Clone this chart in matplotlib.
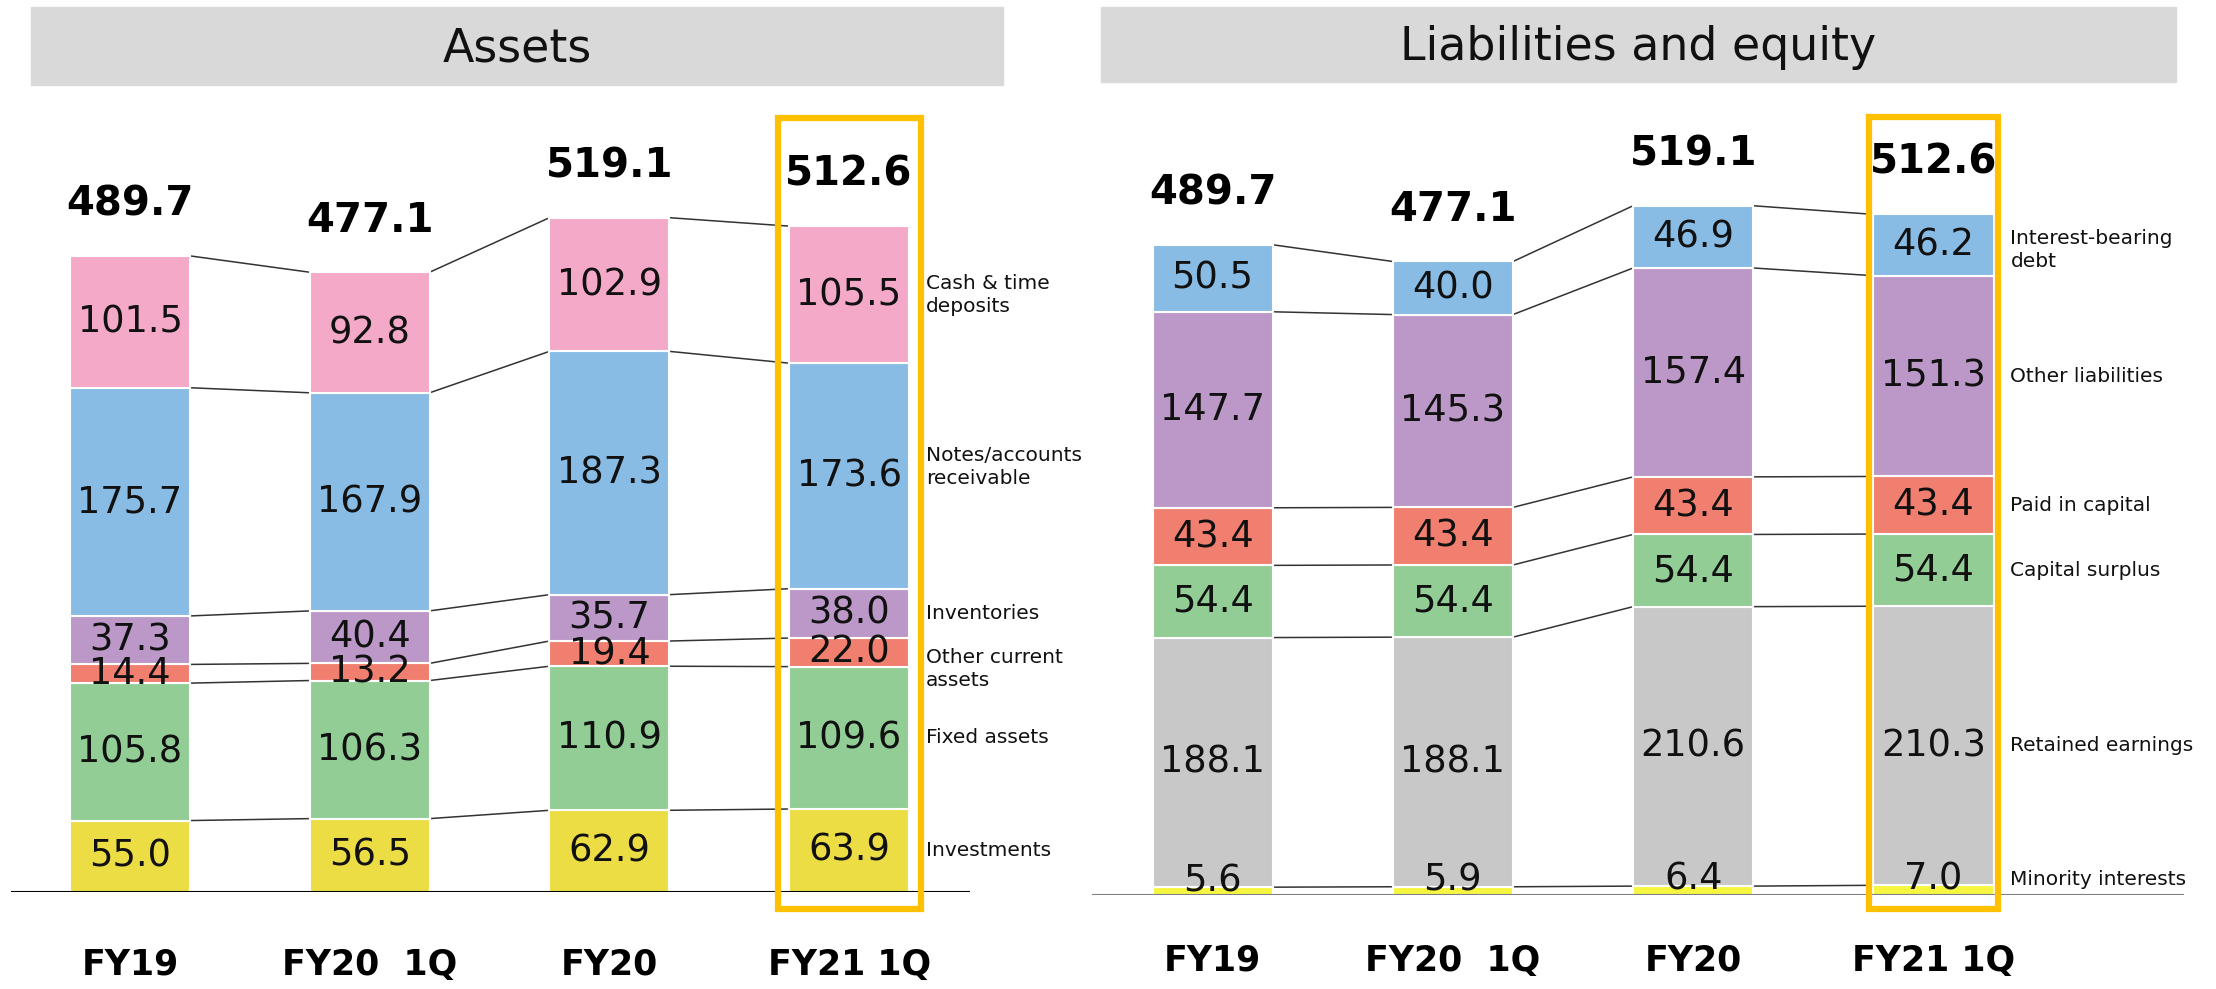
import matplotlib.pyplot as plt
from matplotlib.patches import Rectangle
import numpy as np

periods = ["FY19", "FY20  1Q", "FY20", "FY21 1Q"]

# assets, bottom to top
asset_names = ["Investments", "Fixed assets", "Other current\nassets", "Inventories",
               "Notes/accounts\nreceivable", "Cash & time\ndeposits"]
investments = [55.0, 56.5, 62.9, 63.9]
fixed_assets = [105.8, 106.3, 110.9, 109.6]
other_current = [14.4, 13.2, 19.4, 22.0]
inventories = [37.3, 40.4, 35.7, 38.0]
receivables = [175.7, 167.9, 187.3, 173.6]
cash = [101.5, 92.8, 102.9, 105.5]
asset_totals = [489.7, 477.1, 519.1, 512.6]

# liabilities and equity, bottom to top
liab_names = ["Minority interests", "Retained earnings", "Capital surplus", "Paid in capital",
              "Other liabilities", "Interest-bearing\ndebt"]
minority = [5.6, 5.9, 6.4, 7.0]
retained = [188.1, 188.1, 210.6, 210.3]
cap_surplus = [54.4, 54.4, 54.4, 54.4]
paid_in = [43.4, 43.4, 43.4, 43.4]
other_liab = [147.7, 145.3, 157.4, 151.3]
debt = [50.5, 40.0, 46.9, 46.2]
liab_totals = [489.7, 477.1, 519.1, 512.6]

asset_colors = ["#EDDD45", "#92CD96", "#F07F6F", "#BC98C8", "#88BCE4", "#F4A9C8"]
liab_colors = ["#F6F640", "#C8C8C8", "#92CD96", "#F07F6F", "#BC98C8", "#88BCE4"]

W, H = 2216, 989
fig = plt.figure(figsize=(W / 100, H / 100), dpi=100)


def make_axes(left, right, base, scale, c0, spacing, ytop=640):
    ax = fig.add_axes([left / W, (H - base) / H, (right - left) / W, ytop * scale / H])
    ax.set_xlim((left - c0) / spacing, (right - c0) / spacing)
    ax.set_ylim(0, ytop)
    ax.axis("off")
    return ax


def title_box(x0, x1, y0, y1, text):
    fig.patches.append(Rectangle((x0 / W, 1 - y1 / H), (x1 - x0) / W, (y1 - y0) / H,
                                 transform=fig.transFigure, color="#D9D9D9", zorder=0))
    fig.text((x0 + x1) / 2 / W, 1 - (y0 + y1 + 6) / 2 / H, text, ha="center", va="center",
             fontsize=33, color="#111111")


def panel(ax, series, names, colors, totals, label_shift, base_color, rect_half,
          rect_y, cat_y, small_idx=None):
    x = np.arange(len(periods))
    data = np.array(series)
    bottoms = np.vstack([np.zeros(len(periods)), np.cumsum(data, axis=0)[:-1]])
    tops = np.cumsum(data, axis=0)
    bw = 0.5
    for k in range(len(series)):
        ax.bar(x, data[k], bw, bottom=bottoms[k], color=colors[k], edgecolor="white",
               linewidth=1.5, zorder=3)
        for i in range(len(periods)):
            yc = bottoms[k][i] + data[k][i] / 2
            if small_idx is not None and k == small_idx:
                yc = tops[k][i] + 5
            ax.text(x[i], yc, f"{data[k][i]:.1f}", ha="center", va="center",
                    fontsize=26.5, color="#111111", zorder=5)
        # series label to the right of the last bar
        ax.text(3.32, bottoms[k][-1] + data[k][-1] / 2 + label_shift.get(k, 0), names[k],
                ha="left", va="center", fontsize=14.5, color="#111111", clip_on=False,
                linespacing=1.25)
    # connector lines between neighbouring bars
    for k in range(len(series)):
        for i in range(len(periods) - 1):
            ax.plot([x[i] + bw / 2, x[i + 1] - bw / 2], [tops[k][i], tops[k][i + 1]],
                    color="#333333", lw=1.1, zorder=2)
    for i in range(len(periods)):
        ax.annotate(f"{totals[i]:.1f}", (x[i], tops[-1][i]), xytext=(0, 37),
                    textcoords="offset points", ha="center", va="center",
                    fontsize=29, fontweight="bold", color="black")
        ax.text(x[i], cat_y, periods[i], ha="center", va="center", fontsize=25,
                fontweight="bold", color="black", clip_on=False)
    ax.axhline(0, color=base_color, lw=1.5, zorder=4)
    ax.add_patch(Rectangle((3 - rect_half, rect_y[0]), 2 * rect_half, rect_y[1] - rect_y[0],
                           fill=False, edgecolor="#FFC000", lw=4.5, zorder=6, clip_on=False))


ax1 = make_axes(11, 970, 892, 1.299, 130, 239.7)
panel(ax1, [investments, fixed_assets, other_current, inventories, receivables, cash],
      asset_names, asset_colors, asset_totals, {2: -13, 4: 7}, "black", 0.298,
      (-12.9, 596), -56)

ax2 = make_axes(1092, 2184, 894.6, 1.327, 1212.6, 240.3)
panel(ax2, [minority, retained, cap_surplus, paid_in, other_liab, debt],
      liab_names, liab_colors, liab_totals, {0: 8, 5: -4}, "#7F7F7F", 0.27,
      (-10.7, 586), -50, small_idx=0)

title_box(31, 1003, 7, 85, "Assets")
title_box(1101, 2176, 7, 82, "Liabilities and equity")

fig.savefig("out.png", dpi=100)
